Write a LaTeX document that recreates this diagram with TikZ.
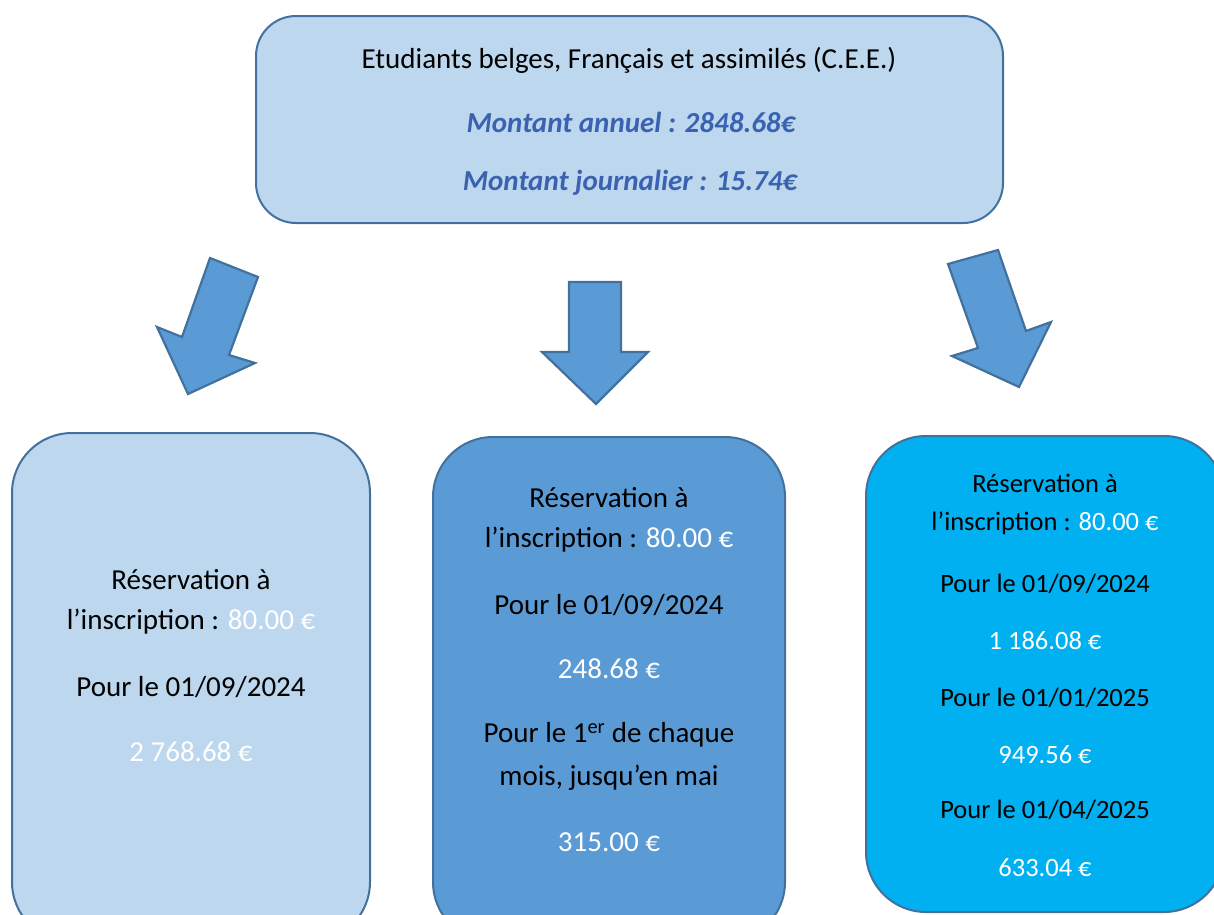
\documentclass[tikz,border=0pt]{standalone}
\usepackage{fontspec}
\setmainfont{Carlito}
\definecolor{paleblue}{HTML}{BDD7EE}
\definecolor{midblue}{HTML}{5B9BD5}
\definecolor{cyanblue}{HTML}{00B0F0}
\definecolor{edgeblue}{HTML}{41719C}
\definecolor{titleblue}{HTML}{3A62B0}
\begin{document}
\begin{tikzpicture}[x=1pt,y=-1pt,
  panel/.style={draw=edgeblue,line width=2pt,rectangle,inner sep=0pt},
  blockarrow/.style={draw=edgeblue,line width=2.2pt,fill=midblue,line join=miter},
  dark/.style={text=black,font=\fontsize{29}{34}\selectfont,inner sep=0pt},
  light/.style={text=white,font=\fontsize{29}{34}\selectfont,inner sep=0pt},
  darks/.style={text=black,font=\fontsize{26.5}{31}\selectfont,inner sep=0pt},
  lights/.style={text=white,font=\fontsize{26.5}{31}\selectfont,inner sep=0pt},
  montant/.style={text=titleblue,font=\fontsize{29}{34}\selectfont\bfseries\itshape,inner sep=0pt}]
\useasboundingbox (0,0) rectangle (1214,914);
\clip (0,0) rectangle (1214,914);
% boxes
\node[panel,fill=paleblue,rounded corners=40pt,minimum width=747pt,minimum height=207pt] (top) at (629.5,119.5) {};
\node[panel,fill=paleblue,rounded corners=60pt,minimum width=358pt,minimum height=509pt] (left) at (191,687.5) {};
\node[panel,fill=midblue,rounded corners=60pt,minimum width=352pt,minimum height=505pt] (mid) at (609,689.5) {};
\node[panel,fill=cyanblue,rounded corners=60pt,minimum width=358pt,minimum height=476pt] (right) at (1045,674) {};
% arrows
\draw[blockarrow] (210,258) -- (258,277) -- (229,355) -- (255,363) -- (188,394) -- (157,327) -- (182,337) -- cycle;
\draw[blockarrow] (569,282) -- (621,282) -- (621,352) -- (648,352) -- (596,404) -- (542,352) -- (569,352) -- cycle;
\draw[blockarrow] (948,264) -- (998,250) -- (1026,331) -- (1051,322) -- (1019,387) -- (952,356) -- (978,348) -- cycle;
% top texts
\node[text=black,font=\fontsize{29}{34}\selectfont,inner sep=0pt] (t1) at (629,60) {Etudiants belges, Français et assimilés (C.E.E.)};
\node[montant] (t2) at (631,122) {Montant annuel : 2848.68€};
\node[montant] (t3) at (630,183) {Montant journalier : 15.74€};
% left box texts
\node[dark] (l1) at (191,580) {Réservation à};
\node[dark] (l2) at (191,622) {l’inscription : \textcolor{white}{80.00 €}};
\node[dark] (l3) at (191,687) {Pour le 01/09/2024};
\node[light] (l4) at (191,752) {2 768.68 €};
% middle box texts
\node[dark] (m1) at (609,498) {Réservation à};
\node[dark] (m2) at (609,540) {l’inscription : \textcolor{white}{80.00 €}};
\node[dark] (m3) at (609,605) {Pour le 01/09/2024};
\node[light] (m4) at (609,669) {248.68 €};
\node[dark] (m5) at (609,735) {Pour le 1\textsuperscript{er} de chaque};
\node[dark] (m6) at (609,778) {mois, jusqu’en mai};
\node[light] (m7) at (609,842) {315.00 €};
% right box texts
\node[darks] (r1) at (1045,483) {Réservation à};
\node[darks] (r2) at (1045,523) {l’inscription : \textcolor{white}{80.00 €}};
\node[darks] (r3) at (1045,584) {Pour le 01/09/2024};
\node[lights] (r4) at (1045,641) {1 186.08 €};
\node[darks] (r5) at (1045,698) {Pour le 01/01/2025};
\node[lights] (r6) at (1045,755) {949.56 €};
\node[darks] (r7) at (1045,810) {Pour le 01/04/2025};
\node[lights] (r8) at (1045,868) {633.04 €};
\end{tikzpicture}
\end{document}
